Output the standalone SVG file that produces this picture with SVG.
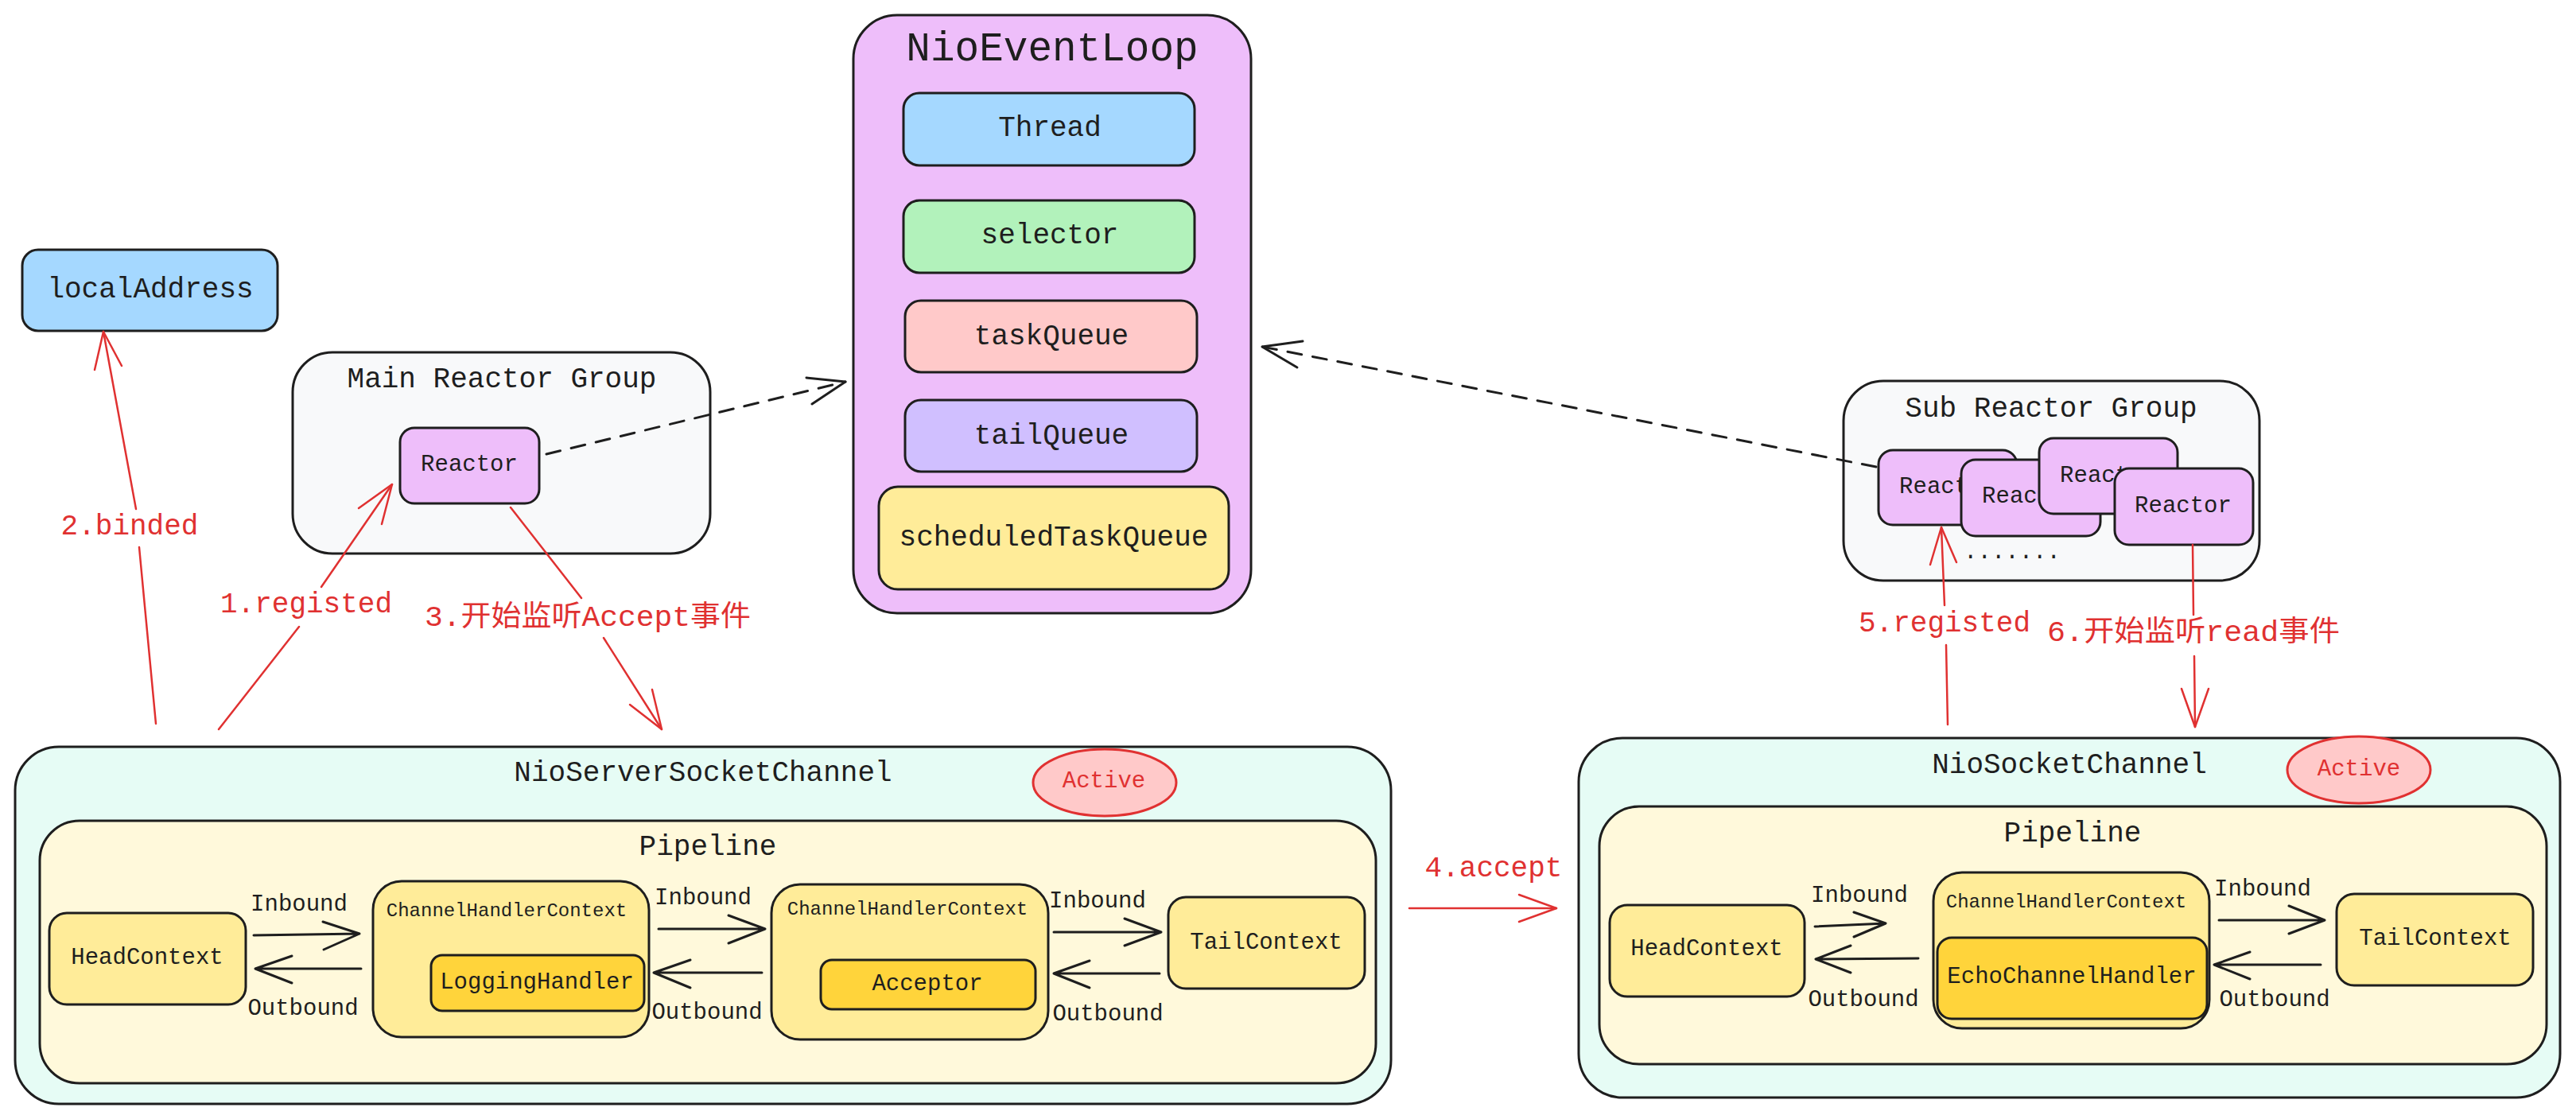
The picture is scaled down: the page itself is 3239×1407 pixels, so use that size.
<svg xmlns="http://www.w3.org/2000/svg" width="3239" height="1407" viewBox="0 0 3239 1407">
<style>
.box{stroke:#1e1e1e;stroke-width:3;stroke-linejoin:round}
.t{font-family:"Liberation Mono","DejaVu Sans Mono","Noto Sans CJK SC",monospace;fill:#1e1e1e;text-anchor:middle;dominant-baseline:central}
.l{font-size:36px}
.s{font-size:29px}
.xs{font-size:24px}
.red{fill:#e03131}
.ln{fill:none;stroke:#1e1e1e;stroke-width:3;stroke-linecap:round;stroke-linejoin:round}
.dash{stroke-dasharray:18 14}
.rl{fill:none;stroke:#e03131;stroke-width:2.5;stroke-linecap:round;stroke-linejoin:round}
.blue{fill:#a5d8ff}.green{fill:#b2f2bb}.pink{fill:#ffc9c9}.lav{fill:#d0bfff}.yel{fill:#ffec99}.vio{fill:#eebefa}.gray{fill:#f8f9fa}.teal{fill:#e6fcf5}.cream{fill:#fff9db}.gold{fill:#ffd43b}
</style>
<rect width="3239" height="1407" fill="#ffffff"/>

<g id="nioEventLoop">
<rect class="box vio" x="1073" y="19" width="500" height="752" rx="55"/>
<text class="t" x="1323" y="62" font-size="51">NioEventLoop</text>
<rect class="box blue" x="1136" y="117" width="366" height="91" rx="20"/>
<text class="t l" x="1320" y="161">Thread</text>
<rect class="box green" x="1136" y="252" width="366" height="91" rx="20"/>
<text class="t l" x="1320" y="296">selector</text>
<rect class="box pink" x="1138" y="378" width="367" height="90" rx="20"/>
<text class="t l" x="1322" y="423">taskQueue</text>
<rect class="box lav" x="1138" y="503" width="367" height="90" rx="20"/>
<text class="t l" x="1322" y="548">tailQueue</text>
<rect class="box yel" x="1105" y="612" width="440" height="129" rx="24"/>
<text class="t l" x="1325" y="676">scheduledTaskQueue</text>
</g>

<g id="localAddress">
<rect class="box blue" x="28" y="314" width="321" height="102" rx="20"/>
<text class="t l" x="189" y="364">localAddress</text>
</g>

<g id="mainReactorGroup">
<rect class="box gray" x="368" y="443" width="525" height="253" rx="50"/>
<text class="t l" x="631" y="477">Main Reactor Group</text>
<g id="mainReactor">
<rect class="box vio" x="503" y="538" width="175" height="95" rx="18"/>
<text class="t s" x="590" y="584">Reactor</text>
</g>
</g>

<g id="subReactorGroup">
<rect class="box gray" x="2318" y="479" width="523" height="251" rx="50"/>
<text class="t l" x="2579" y="514">Sub Reactor Group</text>
<g id="subReactor1">
<rect class="box vio" x="2362" y="566" width="174" height="94" rx="18"/>
<text class="t s" x="2449" y="612">Reactor</text>
</g>
<g id="subReactor2">
<rect class="box vio" x="2466" y="578" width="175" height="96" rx="18"/>
<text class="t s" x="2553" y="624">Reactor</text>
</g>
<g id="subReactor3">
<rect class="box vio" x="2564" y="551" width="174" height="95" rx="18"/>
<text class="t s" x="2651" y="598">Reactor</text>
</g>
<g id="subReactor4">
<rect class="box vio" x="2659" y="589" width="174" height="96" rx="18"/>
<text class="t s" x="2745" y="636">Reactor</text>
</g>
<text class="t s" x="2530" y="694">.......</text>
</g>

<g id="nioServerSocketChannel">
<rect class="box teal" x="19" y="939" width="1730" height="449" rx="55"/>
<text class="t l" x="884" y="972">NioServerSocketChannel</text>
<ellipse cx="1389" cy="984" rx="90" ry="42" fill="#ffc9c9" stroke="#e03131" stroke-width="3"/>
<text class="t s red" x="1388" y="982">Active</text>
<g id="pipeline1">
<rect class="box cream" x="50" y="1032" width="1680" height="330" rx="50"/>
<text class="t l" x="890" y="1065">Pipeline</text>
<g id="headContext1">
<rect class="box yel" x="62" y="1148" width="247" height="115" rx="22"/>
<text class="t s" x="185" y="1204">HeadContext</text>
</g>
<g id="chc1">
<rect class="box yel" x="469" y="1108" width="347" height="196" rx="36"/>
<text class="t xs" x="637" y="1145">ChannelHandlerContext</text>
<rect class="box gold" x="542" y="1201" width="268" height="70" rx="14"/>
<text class="t s" x="675" y="1235">LoggingHandler</text>
</g>
<g id="chc2">
<rect class="box yel" x="970" y="1112" width="348" height="195" rx="36"/>
<text class="t xs" x="1141" y="1143">ChannelHandlerContext</text>
<rect class="box gold" x="1032" y="1207" width="270" height="62" rx="14"/>
<text class="t s" x="1166" y="1237">Acceptor</text>
</g>
<g id="tailContext1">
<rect class="box yel" x="1469" y="1128" width="247" height="115" rx="22"/>
<text class="t s" x="1592" y="1185">TailContext</text>
</g>
</g>
</g>

<g id="nioSocketChannel">
<rect class="box teal" x="1985" y="928" width="1234" height="452" rx="55"/>
<text class="t l" x="2602" y="962">NioSocketChannel</text>
<ellipse cx="2966" cy="968" rx="90" ry="42" fill="#ffc9c9" stroke="#e03131" stroke-width="3"/>
<text class="t s red" x="2966" y="967">Active</text>
<g id="pipeline2">
<rect class="box cream" x="2011" y="1014" width="1191" height="324" rx="50"/>
<text class="t l" x="2606" y="1048">Pipeline</text>
<g id="headContext2">
<rect class="box yel" x="2024" y="1138" width="245" height="115" rx="22"/>
<text class="t s" x="2146" y="1193">HeadContext</text>
</g>
<g id="chc3">
<rect class="box yel" x="2431" y="1097" width="347" height="196" rx="36"/>
<text class="t xs" x="2598" y="1134">ChannelHandlerContext</text>
<rect class="box gold" x="2436" y="1179" width="339" height="102" rx="18"/>
<text class="t s" x="2605" y="1228">EchoChannelHandler</text>
</g>
<g id="tailContext2">
<rect class="box yel" x="2938" y="1124" width="247" height="115" rx="22"/>
<text class="t s" x="3062" y="1180">TailContext</text>
</g>
</g>
</g>

<g id="connectors">
<path class="ln dash" d="M687 571 L1063 480"/>
<path class="ln" d="M1014 475 L1063 480 L1021 508"/>
<path class="ln dash" d="M2359 587 L1587 436"/>
<path class="ln" d="M1638 429 L1587 436 L1631 462"/>

<path class="rl" d="M196 910 L175 688 M171 640 L130 417"/>
<path class="rl" d="M119 465 L130 417 L153 460"/>
<text class="t l red" x="163" y="662">2.binded</text>

<path class="rl" d="M275 917 L376 788 M404 738 L493 609"/>
<path class="rl" d="M451 639 L493 609 L480 659"/>
<text class="t l red" x="385" y="760">1.registed</text>

<path class="rl" d="M642 638 L731 752 M759 802 L832 917"/>
<path class="rl" d="M792 886 L832 917 L820 867"/>
<text class="t l red" x="739" y="777" textLength="410" lengthAdjust="spacingAndGlyphs">3.开始监听Accept事件</text>

<path class="rl" d="M1772 1142 L1957 1142"/>
<path class="rl" d="M1910 1125 L1957 1142 L1910 1159"/>
<text class="t l red" x="1878" y="1092">4.accept</text>

<path class="rl" d="M2449 911 L2447 811 M2445 761 L2441 663"/>
<path class="rl" d="M2427 710 L2441 663 L2460 707"/>
<text class="t l red" x="2445" y="784">5.registed</text>

<path class="rl" d="M2757 685 L2758 773 M2759 825 L2760 914"/>
<path class="rl" d="M2743 866 L2760 914 L2777 866"/>
<text class="t l red" x="2758" y="796" textLength="368" lengthAdjust="spacingAndGlyphs">6.开始监听read事件</text>

<path class="ln" d="M319 1176 L452 1174 M406 1159 L452 1174 L407 1194"/>
<text class="t s" x="376" y="1137">Inbound</text>
<path class="ln" d="M454 1218 L321 1218 M367 1202 L321 1218 L367 1236"/>
<text class="t s" x="381" y="1268">Outbound</text>
<path class="ln" d="M828 1168 L962 1168 M916 1151 L962 1168 L916 1186"/>
<text class="t s" x="884" y="1129">Inbound</text>
<path class="ln" d="M958 1223 L822 1223 M868 1207 L822 1223 L868 1242"/>
<text class="t s" x="889" y="1273">Outbound</text>
<path class="ln" d="M1325 1172 L1460 1172 M1414 1155 L1460 1172 L1414 1189"/>
<text class="t s" x="1380" y="1133">Inbound</text>
<path class="ln" d="M1458 1224 L1325 1224 M1370 1208 L1325 1224 L1370 1242"/>
<text class="t s" x="1393" y="1275">Outbound</text>

<path class="ln" d="M2282 1165 L2371 1161 M2331 1147 L2371 1161 L2331 1178"/>
<text class="t s" x="2338" y="1126">Inbound</text>
<path class="ln" d="M2412 1205 L2283 1206 M2327 1189 L2283 1206 L2327 1223"/>
<text class="t s" x="2343" y="1257">Outbound</text>
<path class="ln" d="M2790 1157 L2923 1157 M2878 1139 L2923 1157 L2878 1174"/>
<text class="t s" x="2845" y="1118">Inbound</text>
<path class="ln" d="M2918 1213 L2784 1213 M2829 1197 L2784 1213 L2829 1231"/>
<text class="t s" x="2860" y="1257">Outbound</text>
</g>
</svg>
